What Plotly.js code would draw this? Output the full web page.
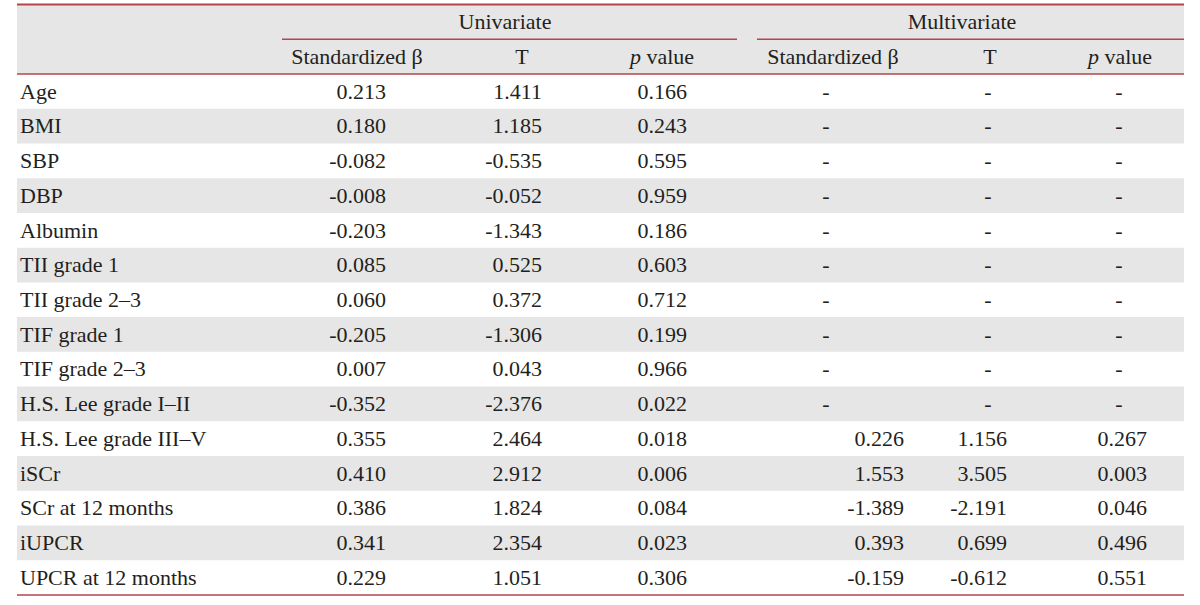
<!DOCTYPE html>
<html>
<head>
<meta charset="utf-8">
<script src="https://cdn.plot.ly/plotly-3.0.1.min.js"></script>
<style>html,body{margin:0;padding:0;background:#fff;}#chart{width:1200px;height:605px;}</style>
</head>
<body>
<div id="chart"></div>
<script>
// ---- Data ----
var variables = ["Age","BMI","SBP","DBP","Albumin","TII grade 1","TII grade 2\u20133","TIF grade 1","TIF grade 2\u20133","H.S. Lee grade I\u2013II","H.S. Lee grade III\u2013V","iSCr","SCr at 12 months","iUPCR","UPCR at 12 months"];
var uniBeta  = [0.213, 0.180, -0.082, -0.008, -0.203, 0.085, 0.060, -0.205, 0.007, -0.352, 0.355, 0.410, 0.386, 0.341, 0.229];
var uniT     = [1.411, 1.185, -0.535, -0.052, -1.343, 0.525, 0.372, -1.306, 0.043, -2.376, 2.464, 2.912, 1.824, 2.354, 1.051];
var uniP     = [0.166, 0.243, 0.595, 0.959, 0.186, 0.603, 0.712, 0.199, 0.966, 0.022, 0.018, 0.006, 0.084, 0.023, 0.306];
var multiBeta= [null,null,null,null,null,null,null,null,null,null, 0.226, 1.553, -1.389, 0.393, -0.159];
var multiT   = [null,null,null,null,null,null,null,null,null,null, 1.156, 3.505, -2.191, 0.699, -0.612];
var multiP   = [null,null,null,null,null,null,null,null,null,null, 0.267, 0.003, 0.046, 0.496, 0.551];
var groupHeaders = ["Univariate","Multivariate"];
var colHeaders = ["Standardized \u03b2","T","<i>p</i> value","Standardized \u03b2","T","<i>p</i> value"];

// ---- Layout constants ----
var FONT = "Liberation Serif";
var FS = 22;
var TXT = "#231f20";
var RED = "#b6444a";
var GREY = "#e6e6e6";
var X0 = 17, X1 = 1184;
var labelX = 20;
var valueRight = [386, 542, 687, 904, 1007, 1147];   // right edge of numbers
var dashCenter = [357, 522, 662, 826, 988, 1119];
var headerCenter = [357, 522, 662, 833, 990, 1120];
var groupCenter = [505, 962];
var groupSpan = [[282, 737], [757, 1184]];
var TEXT_DY = 0.05;   // small downward nudge of text baseline within each row

var n = variables.length;
var rows = variables.map(function(_, i){ return i; });
var cols = [uniBeta, uniT, uniP, multiBeta, multiT, multiP];

var traces = [];
var font = {family: FONT, size: FS, color: TXT};

// labels
traces.push({type:"scatter", mode:"text", x: rows.map(function(){return labelX;}), y: rows.map(function(i){return i + TEXT_DY;}),
  text: variables, textposition:"middle right", textfont: font, hoverinfo:"skip", showlegend:false});

// values
cols.forEach(function(arr, c){
  var xs=[], ys=[], ts=[], dx=[], dy=[], dt=[];
  arr.forEach(function(v, i){
    if (v === null) { dx.push(dashCenter[c]); dy.push(i + TEXT_DY); dt.push("-"); }
    else { xs.push(valueRight[c]); ys.push(i + TEXT_DY); ts.push(v.toFixed(3)); }
  });
  traces.push({type:"scatter", mode:"text", x: xs, y: ys, text: ts, textposition:"middle left",
    textfont: font, hoverinfo:"skip", showlegend:false});
  if (dt.length) traces.push({type:"scatter", mode:"text", x: dx, y: dy, text: dt, textposition:"middle center",
    textfont: font, hoverinfo:"skip", showlegend:false});
});

// column headers (row -1) and group headers (row -2)
traces.push({type:"scatter", mode:"text", x: headerCenter, y: headerCenter.map(function(){return -1 + TEXT_DY;}),
  text: colHeaders, textposition:"middle center", textfont: font, hoverinfo:"skip", showlegend:false});
traces.push({type:"scatter", mode:"text", x: groupCenter, y: [-2 + TEXT_DY, -2 + TEXT_DY],
  text: groupHeaders, textposition:"middle center", textfont: font, hoverinfo:"skip", showlegend:false});

// shapes
var shapes = [];
shapes.push({type:"rect", xref:"x", yref:"y", x0:X0, x1:X1, y0:-2.5, y1:-0.5, fillcolor:GREY, line:{width:0}, layer:"below"});
rows.forEach(function(i){
  if (i % 2 === 1) shapes.push({type:"rect", xref:"x", yref:"y", x0:X0, x1:X1, y0:i-0.5, y1:i+0.5, fillcolor:GREY, line:{width:0}, layer:"below"});
});
shapes.push({type:"line", xref:"x", yref:"y", x0:X0, x1:X1, y0:-2.5, y1:-2.5, line:{color:RED, width:2}});
groupSpan.forEach(function(s){
  shapes.push({type:"line", xref:"x", yref:"y", x0:s[0], x1:s[1], y0:-1.5, y1:-1.5, line:{color:RED, width:1.5}});
});
shapes.push({type:"line", xref:"x", yref:"y", x0:X0, x1:X1, y0:-0.5, y1:-0.5, line:{color:RED, width:1.5}});
shapes.push({type:"line", xref:"x", yref:"y", x0:X0, x1:X1, y0:n-0.5, y1:n-0.5, line:{color:RED, width:1.5}});

var layout = {
  width: 1200, height: 605,
  margin: {l:0, r:0, t:0, b:0, pad:0},
  paper_bgcolor: "#ffffff", plot_bgcolor: "#ffffff",
  xaxis: {range:[0,1200], visible:false, fixedrange:true},
  yaxis: {range:[14.789, -2.631], visible:false, fixedrange:true},
  shapes: shapes,
  showlegend: false,
  hovermode: false
};

Plotly.newPlot("chart", traces, layout, {displayModeBar:false, staticPlot:true});
</script>
</body>
</html>
